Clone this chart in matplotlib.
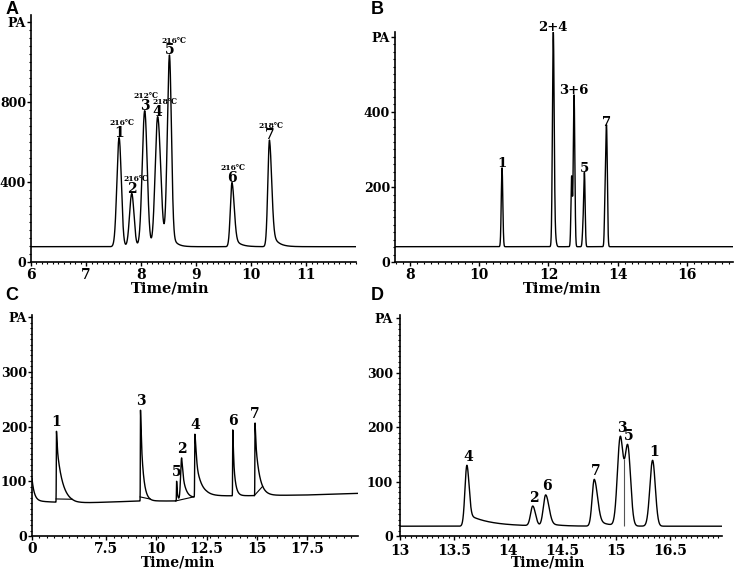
import matplotlib
matplotlib.use('Agg')
import matplotlib.pyplot as plt
from matplotlib.ticker import AutoMinorLocator
import numpy as np

serif = ['DejaVu Serif']

# ---- panel A : peak table (time, height above baseline, left width, right width, tail fraction, tail tau)
A_base = 77
A_t = [7.60, 7.83, 8.065, 8.30, 8.515, 9.65, 10.33]
A_h = [545, 266, 680, 650, 958, 321, 533]
A_wl = [0.04, 0.04, 0.045, 0.045, 0.04, 0.03, 0.03]
A_wr = [0.04, 0.04, 0.045, 0.055, 0.035, 0.04, 0.04]
A_frac = [0, 0, 0, 0, 0.1, 0.2, 0.2]
A_tau = [0.1, 0.1, 0.1, 0.1, 0.08, 0.1, 0.1]
A_labels = ['1', '2', '3', '4', '5', '6', '7']
A_temps = ['216℃', '216℃', '212℃', '218℃', '216℃', '216℃', '218℃']

# ---- panel B
B_base = 41
B_t = [10.66, 12.14, 12.19, 12.67, 12.74, 13.00, 13.04, 13.64, 13.68]
B_h = [210, 564, 30, 186, 404, 50, 191, 150, 300]
B_wl = [0.022, 0.025, 0.03, 0.02, 0.022, 0.02, 0.02, 0.02, 0.022]
B_wr = [0.022, 0.025, 0.03, 0.02, 0.022, 0.02, 0.02, 0.02, 0.022]
B_lab_t = [10.66, 12.14, 12.74, 13.04, 13.68]
B_labels = ['1', '2+4', '3+6', '5', '7']

# ---- panel C (sharp fronts, exponential tails)
C_base_t = [3.8, 6.0, 9.2, 11.0, 12.5, 15.5, 17.5, 20.1]
C_base_v = [64, 60, 64, 64, 73, 74, 75, 78]
C_t = [3.8, 5.02, 9.21, 11.01, 11.26, 11.92, 13.81, 14.92]
C_h = [41, 130, 166, 36, 77, 115, 121, 133]
C_wl = [0.001, 0.008, 0.008, 0.008, 0.05, 0.01, 0.008, 0.008]
C_wr = [0.01, 0.03, 0.03, 0.02, 0.05, 0.06, 0.03, 0.03]
C_frac = [1.0, 0.85, 0.9, 0.8, 0.8, 0.7, 0.8, 0.85]
C_tau = [0.12, 0.28, 0.13, 0.05, 0.18, 0.27, 0.1, 0.2]
C_lab_t = [5.02, 9.21, 11.01, 11.26, 11.92, 13.81, 14.92]
C_labels = ['1', '3', '5', '2', '4', '6', '7']
C_seg_t0 = [5.0, 9.19, 10.95, 14.88]
C_seg_t1 = [5.8, 9.7, 11.85, 15.3]

# ---- panel D
D_base = 18
D_t = [13.62, 14.23, 14.35, 14.80, 15.04, 15.11, 15.34]
D_h = [112, 36, 57, 86, 160, 145, 121]
D_wl = [0.018, 0.02, 0.022, 0.02, 0.026, 0.026, 0.025]
D_wr = [0.02, 0.025, 0.03, 0.03, 0.026, 0.026, 0.025]
D_frac = [0.2, 0, 0.1, 0.15, 0, 0, 0]
D_tau = [0.2, 0.1, 0.1, 0.1, 0.1, 0.1, 0.1]
D_labels = ['4', '2', '6', '7', '3', '5', '1']
D_drop = 15.075

# horizontal nudge (points) of the temperature notes in A
temp_dx = [2, 3, 1, 5, 3, 1, 1]


def peak(t, t0, h, wl, wr, frac=0.0, tau=0.1):
    dt = t - t0
    left = h * np.exp(-0.5 * (dt / wl) ** 2)
    right = h * ((1 - frac) * np.exp(-0.5 * (dt / wr) ** 2) + frac * np.exp(-np.clip(dt, 0, None) / tau))
    return np.where(dt < 0, left, right)


def trace(t, base, ts, hs, wls, wrs, fracs=None, taus=None):
    y = np.zeros_like(t) + base
    for i in range(len(ts)):
        f = fracs[i] if fracs else 0.0
        ta = taus[i] if taus else 0.1
        y = y + peak(t, ts[i], hs[i], wls[i], wrs[i], f, ta)
    return y


def style(ax, xlim, ylim, xticks, xlabels, yticks, ylabels, xlab_x, xlab_y):
    ax.set_xlim(*xlim)
    ax.set_ylim(*ylim)
    for s in ['top', 'right']:
        ax.spines[s].set_visible(False)
    ax.spines['left'].set_linewidth(1.2)
    ax.spines['bottom'].set_linewidth(1.2)
    ax.set_xticks(xticks)
    ax.set_xticklabels(xlabels, fontfamily=serif, fontweight='bold', fontsize=10)
    ax.set_yticks(yticks)
    ax.set_yticklabels(ylabels, fontfamily=serif, fontweight='bold', fontsize=9)
    ax.xaxis.set_minor_locator(AutoMinorLocator(10))
    ax.yaxis.set_minor_locator(AutoMinorLocator(10))
    ax.tick_params(which='major', direction='out', length=3, width=1, pad=1)
    ax.tick_params(axis='y', which='major', pad=0.5)
    ax.tick_params(which='minor', direction='out', length=1.5, width=0.8)
    ax.set_xlabel('Time/min', fontfamily=serif, fontweight='bold', fontsize=10.5)
    ax.xaxis.set_label_coords(xlab_x, xlab_y)


fig = plt.figure(figsize=(7.37, 5.71), dpi=100)
axA = fig.add_axes([0.042, 0.541, 0.441, 0.4326])
axB = fig.add_axes([0.536, 0.541, 0.4586, 0.403])
axC = fig.add_axes([0.0434, 0.0613, 0.4423, 0.387])
axD = fig.add_axes([0.5427, 0.0613, 0.4365, 0.387])

for letter, px, py in [('A', 12, 10), ('B', 377, 10), ('C', 12, 296), ('D', 377, 296)]:
    fig.text(px / 737, 1 - py / 571, letter, fontfamily='Liberation Sans', fontweight='bold',
             fontsize=13, ha='center', va='center')

lbl = dict(fontfamily=serif, fontweight='bold', ha='center', va='bottom', textcoords='offset points')

# A
t = np.linspace(6, 11.9, 5000)
y = trace(t, A_base, A_t, A_h, A_wl, A_wr, A_frac, A_tau)
axA.plot(t, y, color='black', lw=1.0)
for i in range(len(A_t)):
    top = np.interp(A_t[i], t, y)
    axA.annotate(A_labels[i], (A_t[i], top), xytext=(0, -1.5), fontsize=10, **lbl)
    axA.annotate(A_temps[i], (A_t[i], top), xytext=(temp_dx[i], 7.5), fontsize=5.5, **lbl)
style(axA, (6, 11.9), (0, 1235), [6, 7, 8, 9, 10, 11], ['6', '7', '8', '9', '10', '11'],
      [0, 400, 800, 1200], ['0', '400', '800', 'PA'], 0.428, -0.08)

# B
t = np.linspace(7.57, 17.33, 6000)
y = trace(t, B_base, B_t, B_h, B_wl, B_wr)
axB.plot(t, y, color='black', lw=1.0)
for i in range(len(B_lab_t)):
    top = np.interp(B_lab_t[i], t, y)
    axB.annotate(B_labels[i], (B_lab_t[i], top), xytext=(0, -1.5), fontsize=9.5, **lbl)
style(axB, (7.57, 17.33), (0, 613), [8, 10, 12, 14, 16], ['8', '10', '12', '14', '16'],
      [0, 200, 400, 600], ['0', '200', '400', 'PA'], 0.493, -0.086)

# C
t = np.linspace(3.8, 20.05, 8000)
y = np.interp(t, C_base_t, C_base_v)
for i in range(len(C_t)):
    y = y + peak(t, C_t[i], C_h[i], C_wl[i], C_wr[i], C_frac[i], C_tau[i])
axC.plot(t, y, color='black', lw=1.0)
for i in range(len(C_seg_t0)):
    axC.plot([C_seg_t0[i], C_seg_t1[i]], [np.interp(C_seg_t0[i], t, y), np.interp(C_seg_t1[i], t, y)],
             color='black', lw=0.8)
for i in range(len(C_lab_t)):
    top = np.interp(C_lab_t[i], t, y)
    axC.annotate(C_labels[i], (C_lab_t[i], top), xytext=(0, 1.5), fontsize=10, **lbl)
style(axC, (3.8, 20.05), (0, 404), [3.8, 7.5, 10, 12.5, 15, 17.5], ['0', '7.5', '10', '12.5', '15', '17.5'],
      [0, 100, 200, 300, 400], ['0', '100', '200', '300', 'PA'], 0.448, -0.09)
axC.xaxis.label.set_fontsize(10)

# D
t = np.linspace(13, 15.98, 6000)
y = trace(t, D_base, D_t, D_h, D_wl, D_wr, D_frac, D_tau)
axD.plot(t, y, color='black', lw=1.0)
axD.vlines(D_drop, D_base, np.interp(D_drop, t, y), color='#555555', lw=0.8)
for i in range(len(D_t)):
    top = np.interp(D_t[i], t, y)
    axD.annotate(D_labels[i], (D_t[i], top), xytext=(1, 1), fontsize=10, **lbl)
style(axD, (13, 15.98), (0, 406), [13, 13.5, 14, 14.5, 15, 15.5], ['13', '13.5', '14', '14.5', '15', '16.5'],
      [0, 100, 200, 300, 400], ['0', '100', '200', '300', 'PA'], 0.46, -0.09)
axD.xaxis.label.set_fontsize(10)
axD.tick_params(axis='x', which='major', pad=2.5)
axD.tick_params(axis='y', which='major', pad=2)

fig.savefig('out.png', dpi=100)
